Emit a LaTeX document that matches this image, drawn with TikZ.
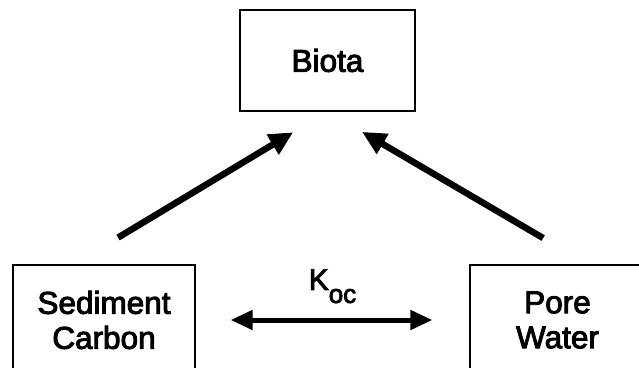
\documentclass[tikz,border=0pt]{standalone}
\usepackage{fontspec}
\setmainfont{Liberation Sans}
\newfontfamily\diagfont{Liberation Sans}[FakeBold=3]
\usetikzlibrary{arrows.meta}

\begin{document}
\begin{tikzpicture}[x=1pt,y=-1pt,
  box/.style={rectangle,draw=black,line width=1.3pt,align=center,inner sep=0pt,
              font=\diagfont\fontsize{31.5}{35}\selectfont},
  flux/.style={line width=6.5pt,-{Triangle[length=24pt,width=22pt]}},
  koc/.style={line width=5pt,{Triangle[length=22pt,width=19pt]}-{Triangle[length=22pt,width=19pt]}}]

  \useasboundingbox (0,0) rectangle (639,367);
  \clip (0,0) rectangle (639,367);

  \node[box,minimum width=175pt,minimum height=101pt] (biota) at (327.5,60.5) {Biota};
  \node[box,minimum width=182pt,minimum height=110pt] (sed)   at (104,320)    {Sediment\\Carbon};
  \node[box,minimum width=175pt,minimum height=110pt] (pore)  at (557.5,320)  {Pore\\Water};

  \draw[flux,shorten <=52pt,shorten >=40pt] ([xshift=-30.5pt]sed.north) -- (biota.south);
  \draw[flux,shorten <=52pt,shorten >=40pt] ([xshift=30.5pt]pore.north) -- (biota.south);

  \draw[koc,shorten <=35pt,shorten >=37pt] (sed.east) -- (pore.west)
    node[midway,above=11pt,font=\diagfont\fontsize{30}{30}\selectfont]
    {K\raisebox{-13pt}{\fontsize{26}{26}\selectfont oc}};
\end{tikzpicture}
\end{document}
